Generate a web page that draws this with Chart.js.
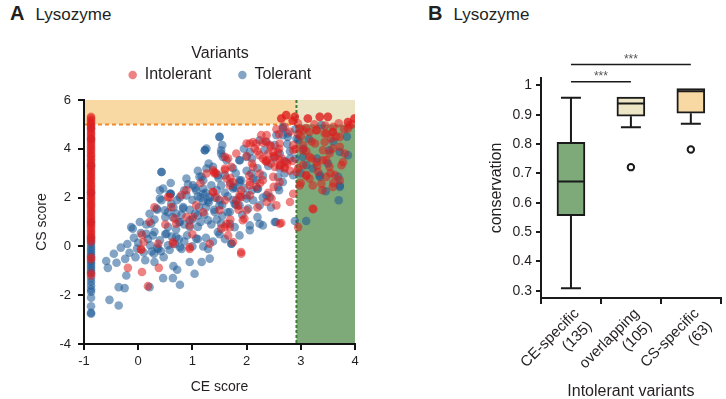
<!DOCTYPE html>
<html><head><meta charset="utf-8">
<script src="https://cdn.jsdelivr.net/npm/chart.js@4.4.0/dist/chart.umd.min.js"></script>
<style>
body{margin:0;background:#fff;width:726px;height:399px;overflow:hidden;position:relative;font-family:"Liberation Sans",Arial,sans-serif;}
#ca{position:absolute;left:0;top:0;}
#cb{position:absolute;left:420px;top:0;}
.hd{position:absolute;top:3px;font-size:17px;line-height:1;color:#231f20;white-space:nowrap;}
.hd b{font-size:20px;margin-right:11px;}
</style></head>
<body>
<div class="hd" style="left:10px"><b>A</b>Lysozyme</div>
<div class="hd" style="left:428px"><b>B</b>Lysozyme</div>
<canvas id="ca" width="410" height="399"></canvas>
<canvas id="cb" width="306" height="399"></canvas>
<script>
// ---------------- Panel A data ----------------
const seriesNames = ['Intolerant', 'Tolerant'];
const ceCutoff = 2.92;   // CE score threshold
const csCutoff = 5;      // CS score threshold
const xTicksA = [-1, 0, 1, 2, 3, 4];
const yTicksA = [-4, -2, 0, 2, 4, 6];
const columnCE = -0.87;  // variants without CE score
const intolerantColumnY = [5.31,5.25,5.17,5.1,5.02,4.95,4.86,4.79,4.7,4.63,4.55,4.46,4.38,4.31,4.22,4.14,4.05,3.98,3.9,3.81,3.73,3.66,3.57,3.5,3.41,3.33,3.26,3.17,3.09,3.02,2.93,2.85,2.78,2.7,2.61,2.53,2.46,2.37,2.29,2.22,2.13,2.05,1.97,1.9,1.81,1.73,1.66,1.58,1.49,1.41,1.34,1.25,1.17,1.1,1.01,0.93,0.86,0.78,0.69,0.61,0.54,0.45,0.37,0.28,0.18,-0.45,-0.53,-1.1,-1.19];
const tolerantColumnY = [4.85,4.4,3.3,2.2,1.0,0.35,0.22,0.1,-0.02,-0.12,-0.22,-0.32,-0.42,-0.6,-0.68,-0.78,-0.88,-0.98,-1.08,-1.3,-1.45,-1.6,-1.76,-1.86,-2.1,-2.45,-2.72,-2.76];
const intolerantPoints = [
 [0.07,0.48],[0.10,0.18],[0.05,-0.12],[-0.19,-0.88],[0.07,-1.05],[0.38,-0.88],[0.18,-1.63],[0.95,-0.1],[0.06,-0.14],[0.64,0.18],
 [1.32,0.11],[1.90,-0.3],[0.89,2.30],[0.55,2.02],[0.21,1.0],[1.07,1.68],[1.38,2.23],[1.50,1.48],[1.60,0.79],[1.93,1.07],
 [2.0,1.48],[1.81,1.89],[1.90,2.30],[2.18,2.44],[2.37,1.82],[2.5,2.44],[1.26,2.99],[0.61,1.61],[0.70,0.93],[0.89,1.2],
 [0.37,0.11],[2.64,0.96],[2.95,0.79],[3.23,1.52],[0.3,1.6],[0.8,2.1],[1.15,2.6],[1.7,2.8],[2.05,2.9],[2.25,2.6],
 [1.45,2.0],[1.0,0.5],[0.5,0.9],[2.2,1.6],[1.7,1.1],[1.2,1.4],[1.85,1.5],[2.4,2.2],
 [1.38,3.12],[1.44,3.0],[1.60,3.12],[1.66,3.6],[1.81,3.81],[2.06,4.22],[2.18,4.22],[2.27,4.56],[2.43,4.15],[2.58,3.87],
 [2.30,3.6],[2.35,3.5],[2.45,3.4],[2.52,3.26],[2.62,3.3],[2.70,3.19],[2.75,3.4],[2.2,3.9],[2.1,3.4],[2.35,4.3],
 [2.5,3.7],[2.65,3.6],[2.8,3.1],[2.85,3.5],[2.9,4.0],[2.3,4.25],[2.45,4.1],[2.6,4.0],[1.4,3.05],[2.0,3.7],
 [2.73,5.38],[2.73,5.38],[2.64,5.24],[2.64,5.24],[2.89,5.31],[2.89,5.31],[2.95,5.04],[3.13,5.24],[3.13,5.24],[3.35,5.31],[3.35,5.31],
 [3.50,5.31],[3.50,5.31],[3.87,5.10],[3.87,5.10],[3.99,5.24],[3.99,5.24],[3.90,4.97],[3.04,4.76],[3.1,4.85],[3.29,4.76],[3.29,4.76],
 [3.47,4.63],[3.59,4.69],[3.59,4.69],[3.44,4.28],[2.86,3.94],[3.04,3.94],[3.20,3.6],[3.41,3.53],[3.53,3.81],[3.72,4.08],
 [3.16,2.78],[3.72,2.71],[3.22,1.55],[3.78,3.46],[2.61,0.93],[3.0,4.5],[3.2,4.3],[3.65,4.5],[3.8,4.8],[3.95,5.0],
 [2.95,4.6],[3.25,5.0],[3.45,4.95],[3.1,3.9],[3.3,3.3],[3.55,3.0],[3.0,2.6],[3.1,2.9],[3.6,2.6],[3.4,2.3],[2.95,3.2],
 [2.6,4.6],[2.55,4.8],[2.7,4.9],[2.85,5.15],[2.85,5.15],[2.8,4.7],[3.7,5.05],[3.6,4.9],
 [1.60,3.19],[1.41,2.99],[1.63,2.78],[1.69,2.5],[1.38,2.23],[0.58,2.02],[1.01,1.2],[0.95,0.86],[0.67,1.14],[1.53,0.73],
 [1.63,0.93],[1.69,0.79],[1.66,0.45],[1.75,0.18],[1.96,1.14],[1.90,-0.23],[0.64,0.11],[0.95,-0.03],[1.84,1.68],[2.06,2.5],[1.90,2.02],
 [2.12,4.28],[2.0,4.22],[2.15,4.01],[2.24,3.74],[2.37,3.46],[2.40,3.81],[2.52,3.67],[2.61,3.33],[2.73,3.46],[1.60,3.67],
 [1.72,3.26],[2.12,3.26],[2.24,2.99],[2.06,2.64],[2.30,2.71],[2.49,2.85],[2.61,2.64],[1.75,2.64],[1.87,2.09],[2.06,2.09],
 [2.46,1.96],[1.60,1.89],[2.55,1.68],[2.86,2.16],[2.80,1.82],
 [2.98,4.83],[3.16,4.69],[3.44,4.63],[3.56,4.42],[3.72,4.49],[3.87,4.83],[2.86,4.15],[3.04,4.15],[3.26,4.22],[3.41,3.94],
 [3.59,4.01],[3.81,3.81],[3.16,3.67],[3.29,3.46],[3.47,3.53],[3.04,3.33],[2.92,3.05],[3.10,2.92],[3.32,3.05],[3.53,3.26],
 [3.75,3.33],[3.47,2.85],[3.63,2.92],[2.98,2.5],[3.22,2.5],[3.38,2.57],[3.59,2.44],[2.37,4.56],[2.61,4.22],[2.49,3.87],
 [2.37,3.53],[2.61,3.53],[2.70,3.26]
];
const tolerantPoints = [
 [-0.59,-0.60],[-0.56,-0.88],[-0.40,-0.67],[-0.53,-2.19],[-0.36,-2.42],[-0.36,-1.67],[-0.25,-1.71],[-0.22,-1.19],[-0.24,-0.51],[-0.16,-0.26],
 [-0.10,0.73],[-0.05,-0.44],[-0.02,-0.09],[0.13,-0.57],[0.21,-1.67],[0.25,-0.21],[0.29,-0.30],[0.30,-0.64],[0.47,-0.44],[0.46,-1.30],
 [0.64,-1.30],[0.65,-0.81],[0.72,-0.96],[0.77,-1.57],[1.04,-1.12],[0.95,-0.64],[1.17,-0.64],[1.32,-0.50],[1.72,0.11],
 [-0.45,-0.3],[-0.32,-0.05],[-0.2,0.1],[-0.08,0.35],[0.0,0.15],[0.05,0.55],[0.1,-0.25],[0.18,0.3],[0.22,0.05],[0.3,0.6],
 [0.35,-0.05],[0.4,0.25],[0.42,-0.2],[0.5,0.5],[0.55,0.05],[0.58,-0.15],[0.62,0.4],[0.68,0.1],[0.75,0.3],[0.8,-0.1],
 [0.85,0.2],[0.9,0.45],[1.0,0.0],[1.1,0.3],[1.2,0.0],[1.25,0.35],[1.38,0.2],[1.5,0.5],[1.6,0.3],
 [0.15,0.9],[0.21,1.34],[0.03,1.0],[-0.13,0.79],[0.15,0.52],[0.3,1.1],[0.35,1.5],[0.40,2.30],[0.43,1.89],[0.43,3.05],[0.43,3.05],
 [0.5,1.2],[0.55,0.8],[0.6,2.16],[0.6,2.16],[0.64,1.20],[0.65,1.6],[0.7,0.7],[0.72,1.9],[0.77,2.02],[0.8,1.3],[0.83,1.61],
 [0.85,0.9],[0.89,2.78],[0.92,2.55],[0.95,1.5],[1.0,1.9],[1.0,1.1],[1.05,2.4],[1.07,2.30],[1.1,0.8],[1.12,1.6],[1.15,2.0],
 [1.2,2.71],[1.22,1.3],[1.25,2.2],[1.29,1.07],[1.3,1.8],[1.35,2.5],[1.38,3.26],[1.4,1.5],[1.42,2.0],[1.45,1.1],[1.48,2.8],
 [1.53,2.5],[1.55,1.7],[1.6,2.92],[1.6,2.2],[1.65,1.4],[1.69,0.93],[1.7,2.6],[1.75,1.9],[1.78,0.79],[1.8,2.4],[1.87,2.02],
 [1.9,2.71],[1.92,1.3],[2.03,1.55],[2.06,0.66],[2.1,2.3],[2.12,1.89],[2.18,2.71],[2.2,1.2],[2.24,0.93],[2.3,0.86],[2.3,2.0],
 [2.43,2.02],[2.52,1.0],[2.45,1.6],[2.58,2.85],[2.6,2.3],[2.54,1.0],[2.89,1.04],
 [0.75,1.0],[0.95,0.8],[1.05,1.35],[1.15,1.0],[1.35,0.9],[1.55,1.25],[0.55,1.4],[0.85,2.3],[1.25,1.6],[1.45,2.3],[1.65,2.05],
 [1.8,1.7],[2.0,2.1],[2.2,2.35],[0.6,2.6],[0.7,1.35],[1.1,2.05],[1.2,1.85],[1.5,1.9],[1.95,2.4],
 [1.23,3.94],[1.23,3.94],[1.50,4.49],[1.50,4.49],[1.55,4.15],[1.53,3.81],[1.63,3.53],[1.87,3.53],[2.06,3.87],[2.24,4.35],[2.33,3.94],
 [2.52,4.15],[2.61,3.81],[2.67,4.56],[2.76,4.63],[2.95,4.35],[2.86,2.92],[2.4,3.3],[2.2,3.2],[2.0,3.1],[1.75,3.2],[1.3,3.4],
 [1.1,3.1],[2.7,3.5],[2.8,3.9],[2.9,3.6],[2.5,3.6],[2.1,3.6],[1.95,4.0],[2.75,4.2],[2.9,4.8],[1.8,3.0],[2.3,2.9],
 [3.38,4.97],[3.53,3.94],[3.72,3.87],[3.35,2.92],[3.69,2.85],[3.72,2.44],[3.70,1.89],[3.10,1.04],[3.46,2.26],[3.10,3.33],
 [3.22,3.19],[3.05,4.0],[3.15,4.4],[3.3,3.6],[3.0,3.0],[3.5,3.4],[3.6,4.3],[3.85,4.5],
 [0.46,2.37],[0.40,1.96],[0.58,2.16],[0.61,1.75],[0.49,1.48],[0.34,1.55],[0.83,1.55],[0.89,2.09],[1.01,2.5],[1.13,2.85],
 [1.20,2.37],[1.29,1.89],[1.10,1.27],[0.95,1.07],[0.77,1.0],[0.52,0.52],[0.27,0.45],[0.70,0.38],[0.77,-0.03],[1.07,0.32],
 [1.29,-0.1],[1.47,0.59],[1.53,0.93],[1.41,1.41],[1.69,1.41],[1.78,1.75],[1.87,2.71],[2.09,2.99],[1.75,2.37],[1.87,0.45],
 [2.06,0.86],[1.72,0.11],[0.24,0.93],[0.37,-0.1],
 [1.26,4.01],[1.53,3.94],[1.56,3.67],[1.26,3.19],[1.47,2.92],[1.87,3.53],[2.0,3.67],[2.12,2.78],[1.87,2.64],[1.75,2.44],
 [2.37,2.09],[2.58,2.44],[2.21,2.37],[2.67,2.64],[2.70,2.99],[2.61,3.19],[2.80,3.6],[2.55,4.56],[2.67,4.9],[1.17,2.85],
 [1.20,2.16],[1.32,2.02],[1.50,1.68],[1.87,1.68],[2.0,1.96],[2.24,1.68],
 [2.92,4.42],[2.76,4.49],[3.04,3.67],[3.35,2.85],[3.72,2.5],[3.87,3.74],[2.67,4.83],[2.37,4.28]
];

// ---------------- Panel B data ----------------
const boxCategories = [['CE-specific','(135)'], ['overlapping','(105)'], ['CS-specific','(63)']];
const yTicksB = [0.3, 0.4, 0.5, 0.6, 0.7, 0.8, 0.9, 1];
const yTickLabelsB = ['0.3', '0.4', '0.5', '0.6', '0.7', '0.8', '0.9', '1'];
const whiskerLow  = [0.308, 0.857, 0.869];
const boxQ1       = [0.556, 0.895, 0.905];
const boxMedian   = [0.672, 0.938, 0.980];
const boxQ3       = [0.806, 0.960, 0.989];
const whiskerHigh = [0.958, 0.960, 0.989];
const boxOutliers = [null, 0.721, 0.781];
const sigPairs  = [[0, 1], [0, 2]];
const sigLevels = [1.012, 1.071];
const sigLabels = ['***', '***'];

// ---------------- styles ----------------
const INK = '#231f20';
const FONT = '"Liberation Sans", Arial, sans-serif';
Chart.defaults.font.family = FONT;
Chart.defaults.color = INK;
Chart.defaults.animation = false;

const regionPlugin = {
  id: 'regions',
  afterLayout(chart) {
    const lg = chart.legend;
    if (lg) { lg.top -= 7; lg.bottom -= 7; }
  },
  beforeDraw(chart) {
    const {ctx, scales: {x, y}} = chart;
    const xl = x.getPixelForValue(x.min), xc = x.getPixelForValue(ceCutoff), xr = x.getPixelForValue(x.max);
    const yt = y.getPixelForValue(y.max), yc = y.getPixelForValue(csCutoff), yb = y.getPixelForValue(y.min);
    ctx.save();
    ctx.fillStyle = '#f9d9a3'; ctx.fillRect(xl, yt, xc - xl, yc - yt);
    ctx.fillStyle = '#ebe5c5'; ctx.fillRect(xc, yt, xr - xc, yc - yt);
    ctx.fillStyle = '#7ea979'; ctx.fillRect(xc, yc, xr - xc, yb - yc);
    ctx.lineWidth = 2;
    ctx.setLineDash([4, 3]);
    ctx.strokeStyle = '#f08a2a';
    ctx.beginPath(); ctx.moveTo(xl, yc); ctx.lineTo(xc, yc); ctx.stroke();
    ctx.setLineDash([3, 2]);
    ctx.strokeStyle = '#3f7f35';
    ctx.beginPath(); ctx.moveTo(xc, yt); ctx.lineTo(xc, yb); ctx.stroke();
    ctx.restore();
  }
};

const toXY = arr => arr.map(p => ({x: p[0], y: p[1]}));
const colXY = ys => ys.map(v => ({x: columnCE, y: v}));

new Chart(document.getElementById('ca'), {
  type: 'scatter',
  data: {
    datasets: [
      { label: seriesNames[0], data: colXY(intolerantColumnY).concat(toXY(intolerantPoints)),
        backgroundColor: 'rgba(222,30,30,0.55)', borderWidth: 0, pointRadius: 4.3, pointHoverRadius: 4.3 },
      { label: seriesNames[1], data: colXY(tolerantColumnY).concat(toXY(tolerantPoints)),
        backgroundColor: 'rgba(30,90,150,0.55)', borderWidth: 0, pointRadius: 4.3, pointHoverRadius: 4.3 }
    ]
  },
  options: {
    responsive: false,
    layout: { padding: { left: 30, top: 35, right: 0, bottom: 0 } },
    plugins: {
      tooltip: { enabled: false },
      legend: {
        display: true, position: 'top',
        title: { display: true, text: 'Variants', color: INK, font: { size: 16 }, padding: { top: 5, bottom: -24.5 } },
        labels: { usePointStyle: true, pointStyle: 'circle', boxWidth: 8, boxHeight: 6, padding: 27, color: INK, font: { size: 16 } }
      }
    },
    scales: {
      x: {
        type: 'linear', min: -1, max: 4,
        afterBuildTicks: s => { s.ticks = xTicksA.map(v => ({value: v})); },
        afterFit: s => { s.height = 55; s.paddingRight = 55; },
        ticks: { color: INK, font: { size: 13 }, padding: 4 },
        grid: { display: true, drawOnChartArea: false, drawTicks: true, tickLength: 6, color: '#111', lineWidth: 2 },
        border: { display: true, color: '#111', width: 2 },
        title: { display: true, text: 'CE score', color: INK, font: { size: 14 }, padding: { top: 0, bottom: 3 } }
      },
      y: {
        type: 'linear', min: -4, max: 6,
        afterBuildTicks: s => { s.ticks = yTicksA.map(v => ({value: v})); },
        afterFit: s => { s.width = 54; s.paddingTop = 100; },
        ticks: { color: INK, font: { size: 13 }, padding: 7 },
        grid: { display: true, drawOnChartArea: false, drawTicks: true, tickLength: 6, color: '#111', lineWidth: 2 },
        border: { display: true, color: '#111', width: 2 },
        title: { display: true, text: 'CS score', color: INK, font: { size: 14 }, padding: { top: 4, bottom: 0 } }
      }
    }
  },
  plugins: [regionPlugin]
});

// ---------------- Panel B ----------------
const boxPlugin = {
  id: 'boxparts',
  afterDatasetsDraw(chart) {
    const {ctx, scales: {x, y}} = chart;
    ctx.save();
    ctx.strokeStyle = '#1a1a1a';
    ctx.lineWidth = 2;
    boxCategories.forEach((c, i) => {
      const cx = x.getPixelForValue(i);
      const half = 14, cap = 10;
      ctx.beginPath();
      if (whiskerHigh[i] > boxQ3[i]) {
        ctx.moveTo(cx, y.getPixelForValue(boxQ3[i])); ctx.lineTo(cx, y.getPixelForValue(whiskerHigh[i]));
        ctx.moveTo(cx - cap, y.getPixelForValue(whiskerHigh[i])); ctx.lineTo(cx + cap, y.getPixelForValue(whiskerHigh[i]));
      }
      ctx.moveTo(cx, y.getPixelForValue(boxQ1[i])); ctx.lineTo(cx, y.getPixelForValue(whiskerLow[i]));
      ctx.moveTo(cx - cap, y.getPixelForValue(whiskerLow[i])); ctx.lineTo(cx + cap, y.getPixelForValue(whiskerLow[i]));
      ctx.moveTo(cx - half + 1, y.getPixelForValue(boxMedian[i])); ctx.lineTo(cx + half - 1, y.getPixelForValue(boxMedian[i]));
      ctx.stroke();
    });
    ctx.restore();
  },
  afterDraw(chart) {
    const {ctx, scales: {x, y}} = chart;
    ctx.save();
    ctx.strokeStyle = '#1a1a1a';
    ctx.lineWidth = 1.6;
    ctx.fillStyle = '#555';
    ctx.font = '12px ' + FONT;
    ctx.textAlign = 'center';
    ctx.textBaseline = 'middle';
    sigPairs.forEach((p, k) => {
      const x1 = x.getPixelForValue(p[0]), x2 = x.getPixelForValue(p[1]);
      const yy = y.getPixelForValue(sigLevels[k]);
      ctx.beginPath(); ctx.moveTo(x1, yy); ctx.lineTo(x2, yy); ctx.stroke();
      ctx.fillText(sigLabels[k], (x1 + x2) / 2, yy - 5);
    });
    ctx.restore();
  }
};

new Chart(document.getElementById('cb'), {
  type: 'bar',
  data: {
    labels: boxCategories,
    datasets: [
      { type: 'line', label: 'outliers', data: boxOutliers, showLine: false,
        pointRadius: 3.2, pointBorderWidth: 2, pointBackgroundColor: '#fff', pointBorderColor: '#1a1a1a', pointHoverRadius: 3.2 },
      { type: 'bar', label: 'IQR', data: boxQ1.map((q, i) => [q, boxQ3[i]]),
        backgroundColor: ['#7ea979', '#ece6c6', '#f9d9a3'], borderColor: '#1a1a1a', borderWidth: 2,
        borderSkipped: false, barThickness: 28 }
    ]
  },
  options: {
    responsive: false,
    layout: { padding: { left: 63, top: 78, right: 0, bottom: 0 } },
    plugins: { legend: { display: false }, tooltip: { enabled: false } },
    scales: {
      x: {
        type: 'category',
        afterFit: s => { s.height = 101; s.paddingRight = 3; },
        ticks: { color: INK, font: { size: 15 }, maxRotation: 45, minRotation: 45, padding: 1, labelOffset: 6, autoSkip: false },
        grid: { display: true, offset: true, drawOnChartArea: false, drawTicks: true, tickLength: 6, color: '#1a1a1a', lineWidth: 2 },
        border: { display: true, color: '#1a1a1a', width: 2 },
        title: { display: true, text: 'Intolerant variants', color: INK, font: { size: 16 }, padding: { top: 0, bottom: -2 } }
      },
      y: {
        type: 'linear', min: 0.275, max: 1.025, bounds: 'data',
        afterBuildTicks: s => { s.ticks = yTicksB.map(v => ({value: v})); },
        afterFit: s => { s.width = 58; s.paddingTop = 78; },
        ticks: { color: INK, font: { size: 14 }, padding: 4,
                 callback: (v, i) => yTickLabelsB[i] },
        grid: { display: true, drawOnChartArea: false, drawTicks: true, tickLength: 5, color: '#1a1a1a', lineWidth: 2 },
        border: { display: true, color: '#1a1a1a', width: 2 },
        title: { display: true, text: 'conservation', color: INK, font: { size: 16 }, padding: { top: 4, bottom: 0 } }
      }
    }
  },
  plugins: [boxPlugin]
});
</script>
</body></html>
